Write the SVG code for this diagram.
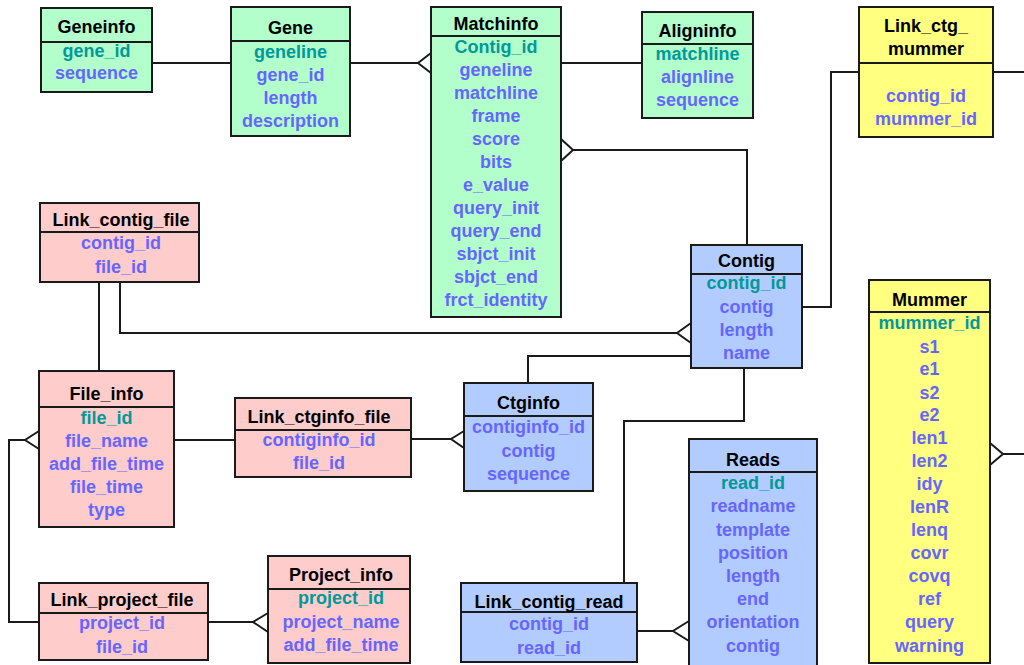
<svg xmlns="http://www.w3.org/2000/svg" width="1024" height="665" viewBox="0 0 1024 665">
<style>
.bx{stroke:#1a1a1a;stroke-width:2}
.g{fill:#b3ffcc}.p{fill:#ffcccc}.b{fill:#b3ccff}.y{fill:#ffff80}
.hl{stroke:#1a1a1a;stroke-width:2}
text{font-family:"Liberation Sans",Arial,sans-serif;font-size:18px;font-weight:bold;text-anchor:middle}
.t{fill:#000}.k{fill:#009999}.f{fill:#6666ff}
.c path{fill:none;stroke:#1a1a1a;stroke-width:2}
</style>
<rect width="1024" height="665" fill="#fff"/>
<g class="c" id="connectors">
<path d="M152 63H231"/>
<path d="M350 63H418M431 53L418 63L431 73"/>
<path d="M561 63H642"/>
<path d="M573 150H747V245M561 139L573 150L561 161"/>
<path d="M802 307H831V72H859"/>
<path d="M993 72H1024"/>
<path d="M1003 454H1024M990 443L1003 454L990 465"/>
<path d="M120 282V333H677M691 323L677 333L691 343"/>
<path d="M99 282V371"/>
<path d="M691 356H528V383"/>
<path d="M744 368V421H624V583"/>
<path d="M174 440H235"/>
<path d="M411 439H451M464 431L451 439L464 448"/>
<path d="M39 431L25 440L39 449M25 440H9V622H39"/>
<path d="M208 622H253M268 613L253 622L268 632"/>
<path d="M637 631H673M689 621L673 631L689 641"/>
</g>
<g id="Geneinfo">
<rect class="bx g" x="41" y="8" width="111" height="84"/><path class="hl" d="M41 42H152"/>
<text class="t" x="96.5" y="33">Geneinfo</text>
<text class="k" x="96.5" y="57">gene_id</text>
<text class="f" x="96.5" y="79">sequence</text>
</g>
<g id="Gene">
<rect class="bx g" x="231" y="7" width="119" height="129"/><path class="hl" d="M231 41H350"/>
<text class="t" x="290.5" y="34">Gene</text>
<text class="k" x="290.5" y="58">geneline</text>
<text class="f" x="290.5" y="81">gene_id</text>
<text class="f" x="290.5" y="104">length</text>
<text class="f" x="290.5" y="127">description</text>
</g>
<g id="Matchinfo">
<rect class="bx g" x="431" y="7" width="130" height="310"/><path class="hl" d="M431 36H561"/>
<text class="t" x="496" y="30">Matchinfo</text>
<text class="k" x="496" y="53">Contig_id</text>
<text class="f" x="496" y="76">geneline</text>
<text class="f" x="496" y="99">matchline</text>
<text class="f" x="496" y="122">frame</text>
<text class="f" x="496" y="145">score</text>
<text class="f" x="496" y="168">bits</text>
<text class="f" x="496" y="191">e_value</text>
<text class="f" x="496" y="214">query_init</text>
<text class="f" x="496" y="237">query_end</text>
<text class="f" x="496" y="260">sbjct_init</text>
<text class="f" x="496" y="283">sbjct_end</text>
<text class="f" x="496" y="306">frct_identity</text>
</g>
<g id="Aligninfo">
<rect class="bx g" x="642" y="12" width="111" height="106"/><path class="hl" d="M642 44H753"/>
<text class="t" x="697.5" y="37">Aligninfo</text>
<text class="k" x="697.5" y="60">matchline</text>
<text class="f" x="697.5" y="83">alignline</text>
<text class="f" x="697.5" y="106">sequence</text>
</g>
<g id="Link_ctg_mummer">
<rect class="bx y" x="859" y="7" width="134" height="130"/><path class="hl" d="M859 63H993"/>
<text class="t" x="926" y="32">Link_ctg_</text>
<text class="t" x="926" y="55">mummer</text>
<text class="f" x="926" y="102">contig_id</text>
<text class="f" x="926" y="125">mummer_id</text>
</g>
<g id="Mummer">
<rect class="bx y" x="869" y="280" width="121" height="383"/><path class="hl" d="M868 312H990"/>
<text class="t" x="929.5" y="306">Mummer</text>
<text class="k" x="929.5" y="329">mummer_id</text>
<text class="f" x="929.5" y="353">s1</text>
<text class="f" x="929.5" y="375">e1</text>
<text class="f" x="929.5" y="399">s2</text>
<text class="f" x="929.5" y="421">e2</text>
<text class="f" x="929.5" y="444">len1</text>
<text class="f" x="929.5" y="467">len2</text>
<text class="f" x="929.5" y="490">idy</text>
<text class="f" x="929.5" y="513">lenR</text>
<text class="f" x="929.5" y="536">lenq</text>
<text class="f" x="929.5" y="559">covr</text>
<text class="f" x="929.5" y="582">covq</text>
<text class="f" x="929.5" y="605">ref</text>
<text class="f" x="929.5" y="628">query</text>
<text class="f" x="929.5" y="652">warning</text>
</g>
<g id="Contig">
<rect class="bx b" x="691" y="245" width="111" height="123"/><path class="hl" d="M691 274H802"/>
<text class="t" x="746.5" y="267">Contig</text>
<text class="k" x="746.5" y="289">contig_id</text>
<text class="f" x="746.5" y="313">contig</text>
<text class="f" x="746.5" y="336">length</text>
<text class="f" x="746.5" y="359">name</text>
</g>
<g id="Ctginfo">
<rect class="bx b" x="464" y="383" width="129" height="108"/><path class="hl" d="M464 416H593"/>
<text class="t" x="528.5" y="409">Ctginfo</text>
<text class="f" x="528.5" y="433">contiginfo_id</text>
<text class="f" x="528.5" y="457">contig</text>
<text class="f" x="528.5" y="480">sequence</text>
</g>
<g id="Reads">
<rect class="bx b" x="689" y="439" width="128" height="232"/><path class="hl" d="M689 472H817"/>
<text class="t" x="753" y="466">Reads</text>
<text class="k" x="753" y="489">read_id</text>
<text class="f" x="753" y="512">readname</text>
<text class="f" x="753" y="536">template</text>
<text class="f" x="753" y="559">position</text>
<text class="f" x="753" y="582">length</text>
<text class="f" x="753" y="605">end</text>
<text class="f" x="753" y="628">orientation</text>
<text class="f" x="753" y="652">contig</text>
</g>
<g id="Link_contig_read">
<rect class="bx b" x="461" y="583" width="176" height="79"/><path class="hl" d="M461 612H637"/>
<text class="t" x="549" y="608">Link_contig_read</text>
<text class="f" x="549" y="630">contig_id</text>
<text class="f" x="549" y="654">read_id</text>
</g>
<g id="Link_contig_file">
<rect class="bx p" x="40" y="203" width="159" height="79"/><path class="hl" d="M40 232H199"/>
<text class="t" x="121" y="226">Link_contig_file</text>
<text class="f" x="121" y="249">contig_id</text>
<text class="f" x="121" y="273">file_id</text>
</g>
<g id="File_info">
<rect class="bx p" x="39" y="371" width="135" height="156"/><path class="hl" d="M39 407H174"/>
<text class="t" x="106.5" y="400">File_info</text>
<text class="k" x="106.5" y="424">file_id</text>
<text class="f" x="106.5" y="447">file_name</text>
<text class="f" x="106.5" y="470">add_file_time</text>
<text class="f" x="106.5" y="493">file_time</text>
<text class="f" x="106.5" y="516">type</text>
</g>
<g id="Link_ctginfo_file">
<rect class="bx p" x="235" y="398" width="176" height="79"/><path class="hl" d="M235 430H411"/>
<text class="t" x="319" y="423">Link_ctginfo_file</text>
<text class="f" x="319" y="446">contiginfo_id</text>
<text class="f" x="319" y="469">file_id</text>
</g>
<g id="Link_project_file">
<rect class="bx p" x="39" y="583" width="169" height="77"/><path class="hl" d="M39 613H208"/>
<text class="t" x="122" y="606">Link_project_file</text>
<text class="f" x="122" y="629">project_id</text>
<text class="f" x="122" y="653">file_id</text>
</g>
<g id="Project_info">
<rect class="bx p" x="268" y="556" width="142" height="107"/><path class="hl" d="M268 589H410"/>
<text class="t" x="341" y="581">Project_info</text>
<text class="k" x="341" y="604">project_id</text>
<text class="f" x="341" y="628">project_name</text>
<text class="f" x="341" y="651">add_file_time</text>
</g>
</svg>
